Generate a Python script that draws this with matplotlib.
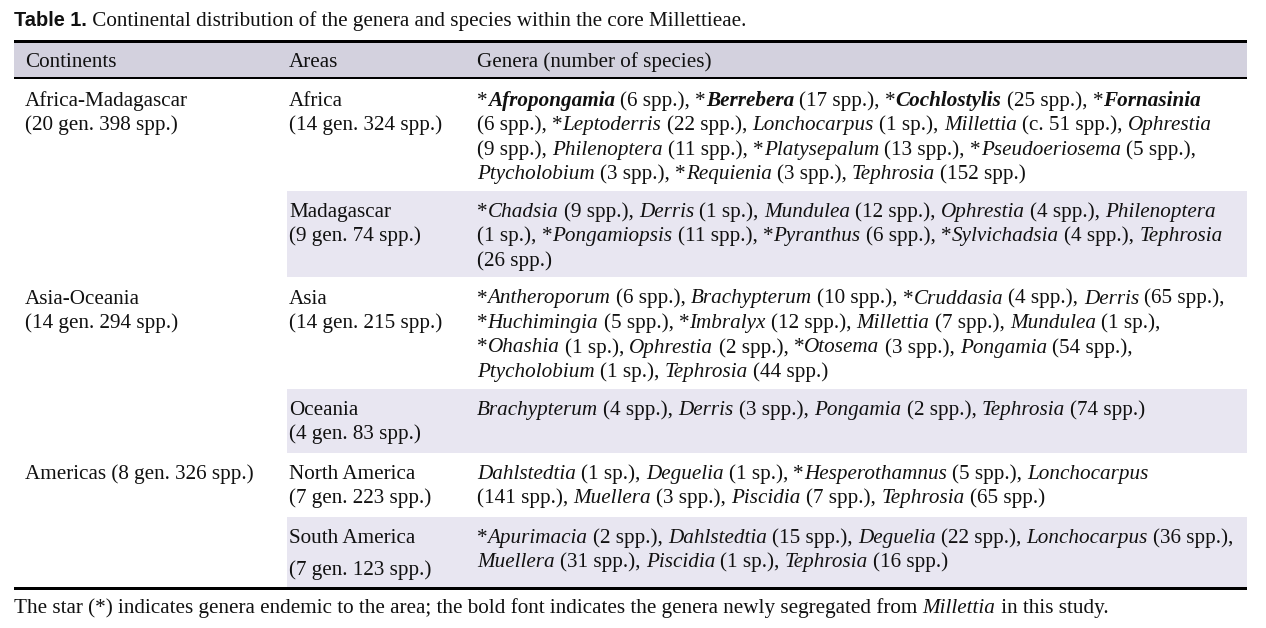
"""
Table 1 redrawn with matplotlib text: continental distribution of the
genera and species within the core Millettieae.
"""
import matplotlib
matplotlib.use('Agg')
import matplotlib.pyplot as plt
from matplotlib.font_manager import FontProperties
from matplotlib.patches import Rectangle

W, H, DPI = 1266, 628, 100
PX = 72 / DPI  # pixels -> points

# ---- data ----
title_bold = 'Table 1.'
title_text = 'Continental distribution of the genera and species within the core Millettieae.'
headers = ['Continents', 'Areas', 'Genera (number of species)']

continent_labels = [['Africa-Madagascar', '(20 gen. 398 spp.)'],
                    ['Asia-Oceania', '(14 gen. 294 spp.)'],
                    ['Americas (8 gen. 326 spp.)']]
areas = ['Africa', 'Madagascar', 'Asia', 'Oceania', 'North America', 'South America']
area_totals = ['(14 gen. 324 spp.)', '(9 gen. 74 spp.)', '(14 gen. 215 spp.)',
               '(4 gen. 83 spp.)', '(7 gen. 223 spp.)', '(7 gen. 123 spp.)']
area_continent = [0, 0, 1, 1, 2, 2]

# (genus, species count, endemic to area, newly segregated from Millettia)
africa = [('Afropongamia', '6 spp.', 1, 1), ('Berrebera', '17 spp.', 1, 1),
          ('Cochlostylis', '25 spp.', 1, 1), ('Fornasinia', '6 spp.', 1, 1),
          ('Leptoderris', '22 spp.', 1, 0), ('Lonchocarpus', '1 sp.', 0, 0),
          ('Millettia', 'c. 51 spp.', 0, 0), ('Ophrestia', '9 spp.', 0, 0),
          ('Philenoptera', '11 spp.', 0, 0), ('Platysepalum', '13 spp.', 1, 0),
          ('Pseudoeriosema', '5 spp.', 1, 0), ('Ptycholobium', '3 spp.', 0, 0),
          ('Requienia', '3 spp.', 1, 0), ('Tephrosia', '152 spp.', 0, 0)]
madagascar = [('Chadsia', '9 spp.', 1, 0), ('Derris', '1 sp.', 0, 0),
              ('Mundulea', '12 spp.', 0, 0), ('Ophrestia', '4 spp.', 0, 0),
              ('Philenoptera', '1 sp.', 0, 0), ('Pongamiopsis', '11 spp.', 1, 0),
              ('Pyranthus', '6 spp.', 1, 0), ('Sylvichadsia', '4 spp.', 1, 0),
              ('Tephrosia', '26 spp.', 0, 0)]
asia = [('Antheroporum', '6 spp.', 1, 0), ('Brachypterum', '10 spp.', 0, 0),
        ('Cruddasia', '4 spp.', 1, 0), ('Derris', '65 spp.', 0, 0),
        ('Huchimingia', '5 spp.', 1, 0), ('Imbralyx', '12 spp.', 1, 0),
        ('Millettia', '7 spp.', 0, 0), ('Mundulea', '1 sp.', 0, 0),
        ('Ohashia', '1 sp.', 1, 0), ('Ophrestia', '2 spp.', 0, 0),
        ('Otosema', '3 spp.', 1, 0), ('Pongamia', '54 spp.', 0, 0),
        ('Ptycholobium', '1 sp.', 0, 0), ('Tephrosia', '44 spp.', 0, 0)]
oceania = [('Brachypterum', '4 spp.', 0, 0), ('Derris', '3 spp.', 0, 0),
           ('Pongamia', '2 spp.', 0, 0), ('Tephrosia', '74 spp.', 0, 0)]
north_america = [('Dahlstedtia', '1 sp.', 0, 0), ('Deguelia', '1 sp.', 0, 0),
                 ('Hesperothamnus', '5 spp.', 1, 0), ('Lonchocarpus', '141 spp.', 0, 0),
                 ('Muellera', '3 spp.', 0, 0), ('Piscidia', '7 spp.', 0, 0),
                 ('Tephrosia', '65 spp.', 0, 0)]
south_america = [('Apurimacia', '2 spp.', 1, 0), ('Dahlstedtia', '15 spp.', 0, 0),
                 ('Deguelia', '22 spp.', 0, 0), ('Lonchocarpus', '36 spp.', 0, 0),
                 ('Muellera', '31 spp.', 0, 0), ('Piscidia', '1 sp.', 0, 0),
                 ('Tephrosia', '16 spp.', 0, 0)]
genera = [africa, madagascar, asia, oceania, north_america, south_america]

footnote = [('The star (*) indicates genera endemic to the area; the bold font indicates '
             'the genera newly segregated from ', 'r'), ('Millettia', 'i'), (' in this study.', 'r')]

# ---- styles ----
INK = '#111111'
HEAD_BG = '#d3d1de'
ROW_BG = '#e8e6f1'
FS = 21.2 * PX
fonts = {
    'r': FontProperties(family='Liberation Serif', size=FS),
    'i': FontProperties(family='Liberation Serif', style='italic', size=FS),
    'bi': FontProperties(family='Liberation Serif', style='italic', weight='bold', size=FS),
    'sb': FontProperties(family='Liberation Sans', weight='bold', size=20 * PX),
}

fig = plt.figure(figsize=(W / DPI, H / DPI), dpi=DPI)
ax = fig.add_axes([0, 0, 1, 1])
ax.set_xlim(0, W)
ax.set_ylim(H, 0)
ax.axis('off')
renderer = fig.canvas.get_renderer()


def width(s, key):
    w, _, _ = renderer.get_text_width_height_descent(s, fonts[key], ismath=False)
    return w


def advance(s, key):
    # advance width incl. side bearings, measured between two 'n'
    return width('n' + s + 'n', key) - width('nn', key)


def draw_runs(x, y, runs):
    # x is the pen position; agg puts the text origin there for ha='left'
    for s, key in runs:
        ax.text(x, y, s, fontproperties=fonts[key], color=INK, ha='left', va='baseline')
        x += advance(s, key)
    return x


def genus_words(entries):
    # a genus name and its count never get split; the count itself stays on one line
    words = []
    for k, (name, count, endemic, bold) in enumerate(entries):
        w = [('*', 'r')] if endemic else []
        w.append((name, 'bi' if bold else 'i'))
        words.append(w)
        words.append([('(' + count + ')' + (',' if k < len(entries) - 1 else ''), 'r')])
    return words


def wrap(words, max_w):
    space = advance(' ', 'r')
    lines, cur, cur_w = [], [], 0
    for w in words:
        ww = sum(advance(s, k) for s, k in w)
        if cur and cur_w + space + ww > max_w:
            lines.append(cur)
            cur, cur_w = [], 0
        cur_w += (space if cur else 0) + ww
        cur.append(w)
    lines.append(cur)
    return lines


def runs_of_line(line):
    runs = []
    for j, w in enumerate(line):
        if j:
            runs.append((' ', 'r'))
        runs.extend(w)
    return runs


# ---- layout ----
X0, X1 = 13.5, 1246.5
COL = [25, 289, 477]
LINE = 24.5
TOP_PAD, BOT_PAD, MIN_ROW = 26.2, 11.5, 64
label_gap = [LINE] * 5 + [32.5]

# title
x = draw_runs(14, 26, [(title_bold, 'sb')])
draw_runs(x, 26, [(' ' + title_text, 'r')])

# header
ax.add_patch(Rectangle((X0, 42.5), X1 - X0, 34.5, color=HEAD_BG, lw=0))
ax.add_patch(Rectangle((X0, 40), X1 - X0, 2.6, color='black', lw=0))
ax.add_patch(Rectangle((X0, 77), X1 - X0, 2.4, color='black', lw=0))
for cx, h in zip(COL, headers):
    draw_runs(cx, 67, [(h, 'r')])

# body rows
top = 79.4
seen = set()
for i, area in enumerate(areas):
    lines = wrap(genus_words(genera[i]), 1238 - COL[2])
    base = top + TOP_PAD
    bottom = max(base + (len(lines) - 1) * LINE, base + label_gap[i]) + BOT_PAD
    bottom = max(bottom, top + MIN_ROW)
    if i % 2 == 1:
        ax.add_patch(Rectangle((COL[1] - 2, top), X1 - COL[1] + 2, bottom - top,
                               color=ROW_BG, lw=0))
    c = area_continent[i]
    if c not in seen:
        seen.add(c)
        for k, s in enumerate(continent_labels[c]):
            draw_runs(COL[0], base + k * LINE, [(s, 'r')])
    draw_runs(COL[1], base, [(area, 'r')])
    draw_runs(COL[1], base + label_gap[i], [(area_totals[i], 'r')])
    for k, line in enumerate(lines):
        draw_runs(COL[2], base + k * LINE, runs_of_line(line))
    top = bottom

# bottom rule and footnote
ax.add_patch(Rectangle((X0, top + 0.5), X1 - X0, 2.8, color='black', lw=0))
draw_runs(14, top + 26.5, footnote)

fig.savefig('out.png', dpi=DPI)
